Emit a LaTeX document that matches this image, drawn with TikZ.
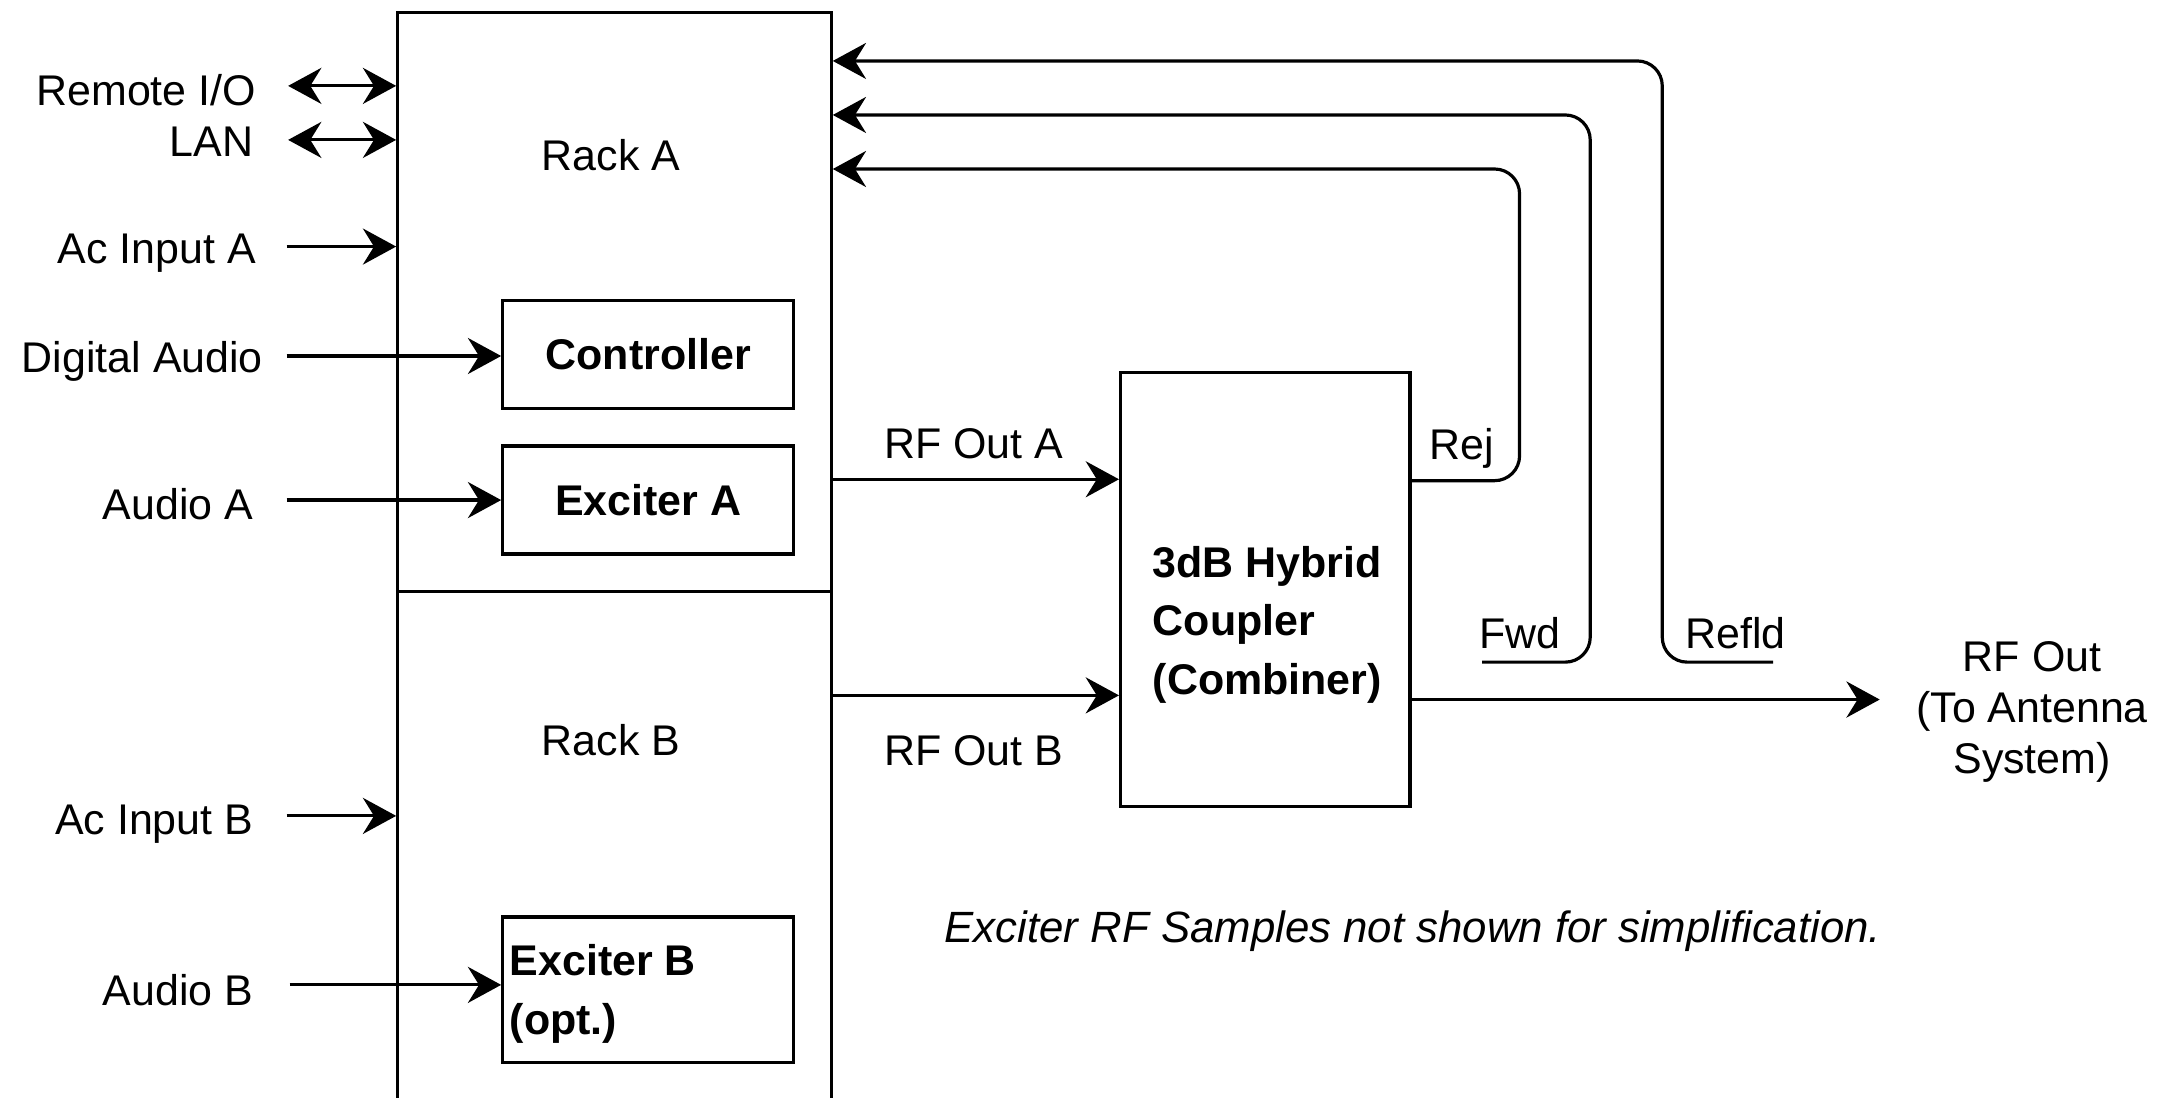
\documentclass[tikz,border=0pt]{standalone}
\usepackage{fontspec}
\setmainfont{Liberation Sans}
\usetikzlibrary{arrows.meta}

\begin{document}
\begin{tikzpicture}[x=1pt,y=-1pt,
  >={Stealth[length=24pt,width=26pt,inset=8pt]},
  txt/.style={font=\fontsize{31}{37}\selectfont, inner sep=0pt},
  rack/.style={draw, line width=2.2pt, anchor=north west, minimum width=313pt},
  unit/.style={draw, line width=2.4pt, minimum width=210pt, minimum height=78pt,
    font=\bfseries\fontsize{31}{37}\selectfont},
  arr/.style={line width=2.3pt, ->},
  darr/.style={line width=2.3pt, <->},
  loop/.style={arr, rounded corners=18pt}]

\clip (0,0) rectangle (1568,792);
\fill[white] (0,0) rectangle (1568,792);

% racks
\node[rack, minimum height=418pt] (rackA) at (286,8) {};
\node[rack, minimum height=420pt] (rackB) at (286,426) {};
\node[txt] (rackAlbl) at (441,112) {Rack A};
\node[txt] (rackBlbl) at (441,534) {Rack B};

% units inside the racks
\node[unit] (ctrl) at (468,256) {Controller};
\node[unit] (excA) at (468,361) {Exciter A};
\node[unit, minimum height=105pt] (excB) at (468,714.5) {};
\node[txt, anchor=west, align=left, font=\bfseries\fontsize{31}{43}\selectfont] (excBlbl)
  at ([xshift=6pt,yshift=-3pt]excB.west) {Exciter B\\(opt.)};

% combiner
\node[draw, line width=2.4pt, minimum width=209pt, minimum height=313pt] (coupler) at (913.5,425.5) {};
\node[txt, anchor=west, align=left, font=\bfseries\fontsize{31}{42}\selectfont] (couplerlbl) at (832,451)
  {3dB Hybrid\\Coupler\\(Combiner)};

% inputs on the left
\node[txt, anchor=east] (remote) at (185,65) {Remote I/O};
\node[txt, anchor=east] (lan) at (183,102) {LAN};
\node[txt, anchor=east] (acA) at (185,183) {Ac Input A};
\node[txt, anchor=east] (dig) at (190,261) {Digital Audio};
\node[txt, anchor=east] (audA) at (183,364) {Audio A};
\node[txt, anchor=east] (acB) at (183,595) {Ac Input B};
\node[txt, anchor=east] (audB) at (183,715) {Audio B};

\draw[darr] ([xshift=23pt]remote.east |- 0,62) -- (rackA.west |- 0,62);
\draw[darr] ([xshift=25pt]lan.east |- 0,101) -- (rackA.west |- 0,101);
\draw[arr] ([xshift=22pt]acA.east |- 0,178) -- (rackA.west |- 0,178);
\draw[arr] ([xshift=17pt]dig.east |- 0,257) -- (ctrl.west |- 0,257);
\draw[arr] ([xshift=24pt]audA.east |- 0,361) -- (excA.west |- 0,361);
\draw[arr] ([xshift=24pt]acB.east |- 0,589) -- (rackB.west |- 0,589);
\draw[arr] ([xshift=26pt]audB.east |- 0,711) -- (excB.west |- 0,711);

% RF paths to the combiner
\node[txt] (rfAlbl) at (703,320) {RF Out A};
\node[txt] (rfBlbl) at (703,542) {RF Out B};
\draw[arr] (rackA.east |- 0,346) -- (coupler.west |- 0,346);
\draw[arr] (rackB.east |- 0,502) -- (coupler.west |- 0,502);

% sample returns to rack A
\coordinate (fwdStart) at (1070,478);
\coordinate (refStart) at (1280,478);
\draw[loop] (coupler.east |- 0,347) -- (1097,347) -- (1097,122) -- (rackA.east |- 0,122);
\draw[loop] (fwdStart) -- (1148,478) -- (1148,83) -- (rackA.east |- 0,83);
\draw[loop] (refStart) -- (1200,478) -- (1200,44) -- (rackA.east |- 0,44);
\node[txt] (rejlbl) at (1055,324) {Rej};
\node[txt] (fwdlbl) at (1097,457) {Fwd};
\node[txt] (refldlbl) at (1253,457) {Refld};

% output to antenna
\node[txt, align=center, font=\fontsize{31}{37}\selectfont] (rfout) at (1467,514) {RF Out\\(To Antenna\\System)};
\coordinate (outTip) at (1357,505);
\draw[arr, line width=2.8pt] (coupler.east |- outTip) -- (outTip);

% note
\node[txt, font=\itshape\fontsize{31.6}{37}\selectfont] (note) at (1020,672)
  {Exciter RF Samples not shown for simplification.};
\end{tikzpicture}
\end{document}
